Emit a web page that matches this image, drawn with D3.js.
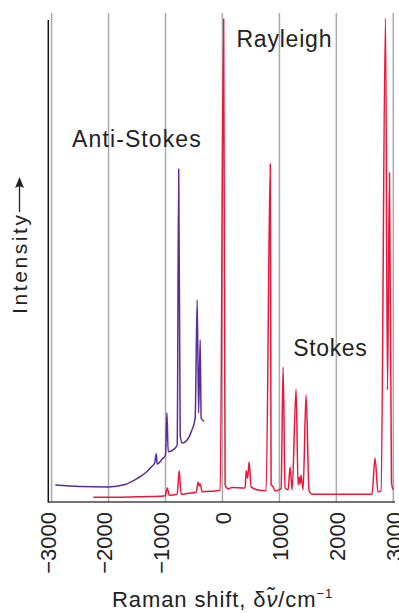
<!DOCTYPE html>
<html>
<head>
<meta charset="utf-8">
<script src="https://cdn.jsdelivr.net/npm/d3@7"></script>
<style>
  html, body { margin: 0; padding: 0; background: #fff; }
  svg { display: block; font-family: "Liberation Sans", Arial, Helvetica, sans-serif; }
</style>
</head>
<body>
<div id="chart"></div>
<script>
// Stokes + Rayleigh spectrum (red): [Raman shift, intensity]
const stokesPoints = [
  [-2267, 1.0], [-1800, 1.0], [-1400, 1.1], [-1093, 1.2], [-1004, 1.3], [-968, 2.9], [-935, 1.4],
  [-795, 1.6], [-760, 6.4], [-725, 1.6], [-600, 1.8], [-461, 2.0], [-426, 4.1], [-409, 3.3],
  [-391, 3.7], [-356, 2.1], [-200, 2.2], [-40, 2.4], [21, 99.2], [47, 3.5], [100, 2.7],
  [170, 3.0], [398, 2.9], [416, 6.4], [442, 4.9], [468, 8.2], [504, 3.1], [650, 2.4],
  [767, 2.3], [840, 69.4], [854, 3.5], [880, 3.3], [925, 2.3], [995, 2.5], [1030, 2.8],
  [1065, 27.7], [1100, 2.9], [1153, 2.5], [1188, 7.2], [1223, 2.5], [1293, 23.2], [1328, 3.5],
  [1346, 5.1], [1363, 3.7], [1381, 5.5], [1416, 2.5], [1468, 22.0], [1521, 2.3], [1574, 1.6],
  [2000, 1.6], [2626, 1.6], [2679, 9.0], [2732, 2.1], [2784, 2.3], [2863, 99.4], [2898, 23.0],
  [2933, 67.6], [2968, 4.0], [2995, 2.5]
];

// Anti-Stokes spectrum (purple)
const antiStokesPoints = [
  [-2935, 3.5], [-2500, 3.2], [-2005, 3.1], [-1707, 3.6], [-1500, 4.8], [-1350, 6.0],
  [-1250, 7.2], [-1190, 8.0], [-1163, 9.9], [-1146, 7.8], [-1060, 8.8], [-1000, 9.6],
  [-975, 18.3], [-953, 10.3], [-865, 10.7], [-795, 11.7], [-768, 68.4], [-742, 13.8],
  [-707, 12.1], [-637, 12.5], [-549, 14.4], [-479, 17.2], [-444, 41.5], [-418, 18.3],
  [-391, 33.3], [-374, 17.2], [-321, 16.6]
];

const xTicks = [-3000, -2000, -1000, 0, 1000, 2000, 3000];

const labels = [
  { text: 'Rayleigh', shift: 245, y: 47, spacing: 0.8 },
  { text: 'Anti-Stokes', shift: -2640, y: 147, spacing: 1.1 },
  { text: 'Stokes', shift: 1245, y: 356, spacing: 0.6 }
];

const W = 399, H = 613;
const svg = d3.select('#chart').append('svg')
  .attr('width', W)
  .attr('height', H);

const x = d3.scaleLinear().domain([-3000, 3000]).range([51.6, 393.3]);
const y = d3.scaleLinear().domain([0, 100]).range([502, 15]);

// Gridlines
svg.append('g')
  .selectAll('line')
  .data(xTicks)
  .enter()
  .append('line')
  .attr('x1', d => x(d)).attr('x2', d => x(d))
  .attr('y1', 13).attr('y2', y(0))
  .attr('stroke', '#aaaaaa')
  .attr('stroke-width', 1.5);

// Axes lines
svg.append('line')
  .attr('x1', 48.3).attr('x2', 48.3)
  .attr('y1', 20).attr('y2', y(0) + 0.7)
  .attr('stroke', '#111').attr('stroke-width', 1.5);

svg.append('line')
  .attr('x1', 48.3).attr('x2', 395)
  .attr('y1', y(0)).attr('y2', y(0))
  .attr('stroke', '#444').attr('stroke-width', 1.5);

// Tick labels (rotated, the last one runs off the edge as in the original)
svg.append('g')
  .selectAll('text')
  .data(xTicks)
  .enter()
  .append('text')
  .attr('transform', d => `translate(${x(d) - (d < 0 ? 4 : -1)},512) rotate(-90)`)
  .attr('text-anchor', 'end')
  .attr('dy', '0.36em')
  .style('font-size', '22px')
  .style('fill', '#222')
  .text(d => d < 0 ? '\u2212' + Math.abs(d) : d);

// Spectra
const line = d3.line()
  .x(d => x(d[0]))
  .y(d => y(d[1]))
  .curve(d3.curveMonotoneX);

svg.append('path')
  .datum(stokesPoints)
  .attr('d', line)
  .attr('fill', 'none')
  .attr('stroke', '#e8183c')
  .attr('stroke-width', 1.5)
  .attr('stroke-linejoin', 'round');

svg.append('path')
  .datum(antiStokesPoints)
  .attr('d', line)
  .attr('fill', 'none')
  .attr('stroke', '#5a2c9c')
  .attr('stroke-width', 1.5)
  .attr('stroke-linejoin', 'round');

// Annotations
svg.append('g')
  .selectAll('text')
  .data(labels)
  .enter()
  .append('text')
  .attr('x', d => x(d.shift))
  .attr('y', d => d.y)
  .style('font-size', '23px')
  .style('letter-spacing', d => d.spacing + 'px')
  .style('fill', '#222')
  .text(d => d.text);

// Y axis title with arrow
const yTitle = svg.append('g').attr('transform', 'translate(27,314) rotate(-90)');
yTitle.append('text')
  .attr('x', 0).attr('y', 0)
  .attr('textLength', 99)
  .attr('lengthAdjust', 'spacing')
  .style('font-size', '21px')
  .style('fill', '#222')
  .text('Intensity');
yTitle.append('line')
  .attr('x1', 102).attr('x2', 128)
  .attr('y1', -7.5).attr('y2', -7.5)
  .attr('stroke', '#222').attr('stroke-width', 1.3);
yTitle.append('path')
  .attr('d', 'M137,-7.5 L126,-12 L128,-7.5 L126,-3 Z')
  .attr('fill', '#222');

// X axis title
const xTitle = svg.append('text')
  .attr('x', 112)
  .attr('y', 607)
  .style('font-size', '22px')
  .style('letter-spacing', '0.9px')
  .style('fill', '#222');
xTitle.append('tspan').text('Raman shift, \u03b4');
xTitle.append('tspan').style('font-style', 'italic').text('\u03bd\u0303');
xTitle.append('tspan').text('/cm');
xTitle.append('tspan').attr('dy', -9).style('font-size', '13px').text('\u22121');
</script>
</body>
</html>
